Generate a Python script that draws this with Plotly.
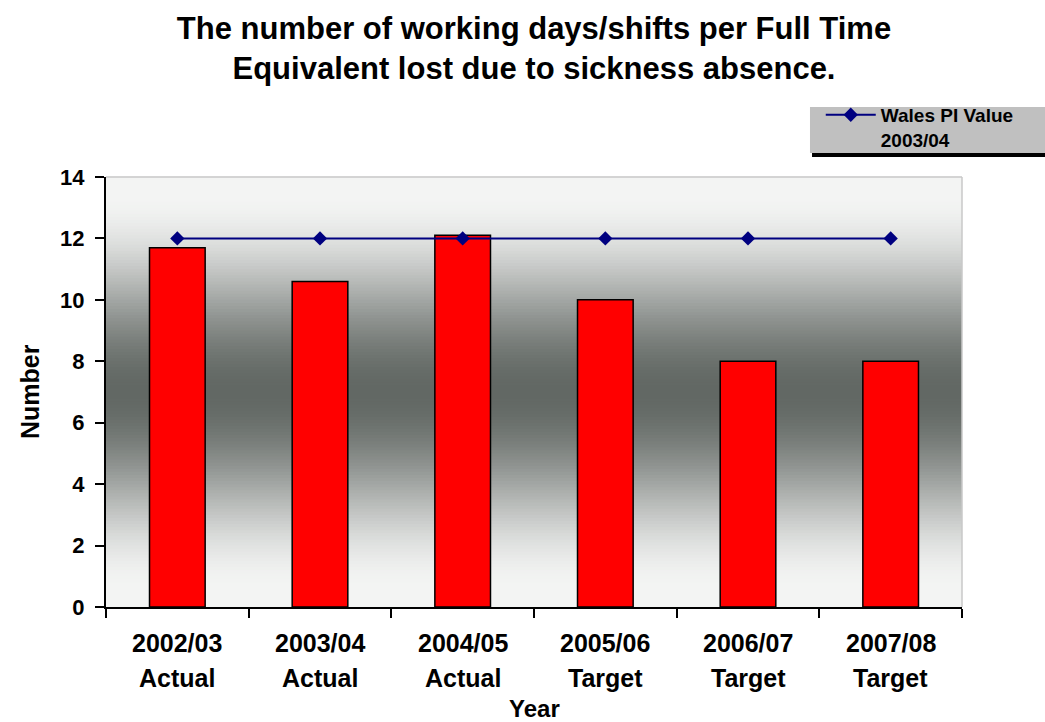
import plotly.graph_objects as go

# Sickness absence per FTE, by year
years = ["2002/03", "2003/04", "2004/05", "2005/06", "2006/07", "2007/08"]
kinds = ["Actual", "Actual", "Actual", "Target", "Target", "Target"]
days_lost = [11.7, 10.6, 12.1, 10.0, 8.0, 8.0]
wales_pi = [12, 12, 12, 12, 12, 12]
y_ticks = [0, 2, 4, 6, 8, 10, 12, 14]

FONT = "Liberation Sans, Arial, sans-serif"

fig = go.Figure()

fig.add_trace(go.Bar(
    x=years, y=days_lost,
    marker=dict(color="#ff0000", line=dict(color="#000000", width=1.5)),
    width=0.39, showlegend=False, hoverinfo="x+y",
))

fig.add_trace(go.Scatter(
    x=years, y=wales_pi, mode="lines+markers",
    name="Wales PI Value<br>2003/04",
    line=dict(color="#000080", width=2),
    marker=dict(symbol="diamond", size=11, color="#000080"),
))

# vertical grey gradient behind the plot: light at the edges, dark in the middle
shapes = []
n = 140
light = (243, 244, 243)
dark = (98, 104, 100)
for i in range(n):
    y0 = i / n
    y1 = (i + 1) / n
    t = abs((y0 + y1) / 2 - 0.5) / 0.5
    s = min(t / 0.92, 1.0)
    g = 3 * s * s - 2 * s * s * s
    c = tuple(round(d + (l - d) * g) for d, l in zip(dark, light))
    shapes.append(dict(
        type="rect", xref="paper", yref="paper", x0=0, x1=1, y0=y0, y1=y1 + 0.002,
        fillcolor="rgb(%d,%d,%d)" % c, line=dict(width=0), layer="below",
    ))

# light frame on top and right of the plot area
shapes.append(dict(type="line", xref="paper", yref="paper", x0=0, x1=1, y0=1, y1=1,
                   line=dict(color="#c8c8c8", width=1.5)))
shapes.append(dict(type="line", xref="paper", yref="paper", x0=1, x1=1, y0=0, y1=1,
                   line=dict(color="#c8c8c8", width=1.5)))
# legend panel and its drop shadow
shapes.append(dict(type="rect", xref="paper", yref="paper", x0=0.8224, x1=1.1,
                   y0=1.0558, y1=1.1628, fillcolor="#c0c0c0", line=dict(width=0),
                   layer="below"))
shapes.append(dict(type="rect", xref="paper", yref="paper", x0=0.8248, x1=1.1,
                   y0=1.0465, y1=1.0558, fillcolor="#000000", line=dict(width=0),
                   layer="below"))

annotations = []
for yr, kd in zip(years, kinds):
    annotations.append(dict(x=yr, y=0, xref="x", yref="paper", text=yr, showarrow=False,
                            yanchor="middle", yshift=-36,
                            font=dict(family=FONT, size=25, color="#000", weight="bold")))
    annotations.append(dict(x=yr, y=0, xref="x", yref="paper", text=kd, showarrow=False,
                            yanchor="middle", yshift=-71,
                            font=dict(family=FONT, size=25, color="#000", weight="bold")))
annotations.append(dict(x=0.5, y=0, xref="paper", yref="paper", text="Year", showarrow=False,
                        yanchor="middle", yshift=-101,
                        font=dict(family=FONT, size=24, color="#000", weight="bold")))
annotations.append(dict(x=0, y=0.5, xref="paper", yref="paper", text="Number", showarrow=False,
                        xanchor="center", xshift=-76, textangle=-90,
                        font=dict(family=FONT, size=25, color="#000", weight="bold")))

fig.update_layout(
    width=1045, height=722,
    margin=dict(l=106, r=83, t=177, b=115, pad=0, autoexpand=False),
    paper_bgcolor="#ffffff", plot_bgcolor="#f2f3f2",
    title=dict(
        text="The number of working days/shifts per Full Time<br>Equivalent lost due to sickness absence.",
        x=0.5, xref="paper", xanchor="center", y=0.946, yanchor="top",
        font=dict(family=FONT, size=31, color="#000", weight="bold"),
    ),
    bargap=0.61,
    shapes=shapes,
    annotations=annotations,
    legend=dict(
        x=0.835, y=1.1886, xanchor="left", yanchor="top",
        itemwidth=50,
        bgcolor="rgba(0,0,0,0)", borderwidth=0, valign="top",
        font=dict(family=FONT, size=19, color="#000", weight="bold"),
    ),
    showlegend=True,
)

fig.update_xaxes(
    type="category", showticklabels=False, tickson="boundaries",
    ticks="outside", ticklen=9, tickwidth=2, tickcolor="#000",
    showline=True, linecolor="#000", linewidth=2, showgrid=False, zeroline=False,
)
fig.update_yaxes(
    range=[0, 14], tickvals=y_ticks, ticks="outside", ticklen=9, tickwidth=2, tickcolor="#000",
    showline=True, linecolor="#000", linewidth=2, showgrid=False, zeroline=False,
    ticklabelstandoff=6,
    tickfont=dict(family=FONT, size=22, color="#000", weight="bold"),
)

fig.write_html("out.html")
